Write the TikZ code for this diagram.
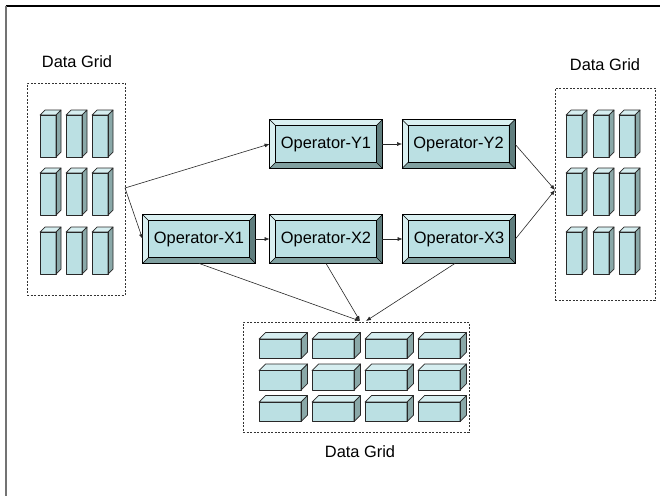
\documentclass[tikz,border=0pt]{standalone}
\usepackage{fontspec}
\setmainfont{Liberation Sans}
\usetikzlibrary{arrows.meta}
\definecolor{cfront}{RGB}{187,224,227}
\definecolor{ctop}{RGB}{214,238,240}
\definecolor{cside}{RGB}{138,168,168}
\definecolor{bvlight}{RGB}{218,240,241}
\definecolor{bvdark}{RGB}{96,126,126}
\definecolor{bvmid}{RGB}{128,160,160}
\definecolor{cline}{RGB}{40,40,40}
\tikzset{
  cub/.style={draw=cline, line width=0.7pt, line join=round},
  op/.style={draw=black, line width=0.8pt, fill=cfront, minimum width=112pt, minimum height=48pt, inner sep=0pt,
    font=\fontsize{16.4}{19}\selectfont},
  gridbox/.style={draw=black!80, dashed, dash pattern=on 2pt off 1.5pt, line width=0.7pt, inner sep=0pt},
  lbl/.style={font=\fontsize{16.4}{19}\selectfont, inner sep=0pt},
  arr/.style={draw=cline, line width=0.6pt, -{Latex[length=5pt,width=4pt]}},
}
% cuboid: x, y (front top-left), w, h, d
\newcommand\mycub[5]{%
  \fill[cfront] (#1,#2) rectangle ++(#3,#4);
  \filldraw[cub, fill=ctop] (#1,#2) -- ++(#5,-#5) -- ++(#3,0) -- ++(-#5,#5) -- cycle;
  \filldraw[cub, fill=cside] (#1+#3,#2) -- ++(#5,-#5) -- ++(0,#4) -- ++(-#5,#5) -- cycle;
  \draw[cub] (#1,#2) rectangle ++(#3,#4);
}
% bevelled operator box: name, cx, cy, text
\newcommand\opbox[4]{%
  \node[op] (#1) at (#2,#3) {#4};
  \fill[bvlight] (#1.north west) -- (#1.north east) -- ([shift={(-6pt,-6pt)}]#1.north east) -- ([shift={(6pt,-6pt)}]#1.north west) -- cycle;
  \fill[bvlight] (#1.north west) -- ([shift={(6pt,-6pt)}]#1.north west) -- ([shift={(6pt,6pt)}]#1.south west) -- (#1.south west) -- cycle;
  \fill[bvdark] (#1.north east) -- (#1.south east) -- ([shift={(-6pt,6pt)}]#1.south east) -- ([shift={(-6pt,-6pt)}]#1.north east) -- cycle;
  \fill[bvmid] (#1.south west) -- ([shift={(6pt,6pt)}]#1.south west) -- ([shift={(-6pt,6pt)}]#1.south east) -- (#1.south east) -- cycle;
  \draw[line width=0.6pt] ([shift={(6pt,-6pt)}]#1.north west) rectangle ([shift={(-6pt,6pt)}]#1.south east);
  \draw[line width=0.6pt] (#1.north west) -- ([shift={(6pt,-6pt)}]#1.north west)
    (#1.north east) -- ([shift={(-6pt,-6pt)}]#1.north east)
    (#1.south west) -- ([shift={(6pt,6pt)}]#1.south west)
    (#1.south east) -- ([shift={(-6pt,6pt)}]#1.south east);
  \draw[line width=0.8pt] (#1.north west) rectangle (#1.south east);
}
\begin{document}
\begin{tikzpicture}[x=1pt,y=-1pt]
\useasboundingbox (0,0) rectangle (660,496);
\fill[white] (0,0) rectangle (660,496);
% frame
\draw[black, line width=1.6pt] (5.5,6) -- (660,6);
\draw[black!55, line width=1.6pt] (6,6) -- (6,496);

% grid boxes
\node[gridbox, minimum width=98pt, minimum height=212pt] (lgrid) at (76,189) {};
\node[gridbox, minimum width=100pt, minimum height=212pt] (rgrid) at (605,194) {};
\node[gridbox, minimum width=226pt, minimum height=110pt] (bgrid) at (356,377) {};

\node[lbl] (llbl) at (77,62) {Data Grid};
\node[lbl] (rlbl) at (605,65) {Data Grid};
\node[lbl] (blbl) at (360,452) {Data Grid};

% cuboids left and right
\foreach \y in {115,173,232}{
  \foreach \x in {40,66,92}{ \mycub{\x}{\y}{16}{42}{5} }
  \foreach \x in {566,593,619}{ \mycub{\x}{\y}{16}{42}{5} }
}
% cuboids bottom
\foreach \y in {339,370.5,402}{
  \foreach \x in {259,312,365,418}{ \mycub{\x}{\y}{42}{19.5}{6.5} }
}

% operators
\opbox{Y1}{326}{144}{Operator-Y1}
\opbox{Y2}{458.5}{144}{Operator-Y2}
\opbox{X1}{199}{239}{Operator-X1}
\opbox{X2}{326}{239}{Operator-X2}
\opbox{X3}{459}{239}{Operator-X3}

\coordinate (rin) at (555,190);
\coordinate (bin1) at (360,321);
\coordinate (bin2) at (366,321);
\coordinate (lout) at (125,188);

% connectors
\draw[arr] (lout) -- (Y1.west);
\draw[arr] (lout) -- (X1.west);
\draw[arr] (Y1.east) -- (Y2.west);
\draw[arr] (X1.east) -- (X2.west);
\draw[arr] (X2.east) -- (X3.west);
\draw[arr] (Y2.east) -- (rin);
\draw[arr] (X3.east) -- (rin);
\draw[arr] (X1.south) -- (bin1);
\draw[arr] (X2.south) -- (bin1);
\draw[arr] ([xshift=-4pt]X3.south) -- (bin2);
\end{tikzpicture}
\end{document}
